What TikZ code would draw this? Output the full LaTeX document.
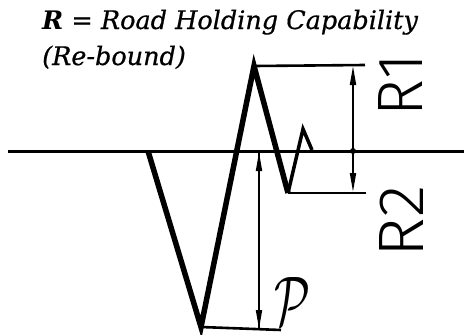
\documentclass[tikz,border=0pt]{standalone}
\usepackage{fontspec}
\newfontfamily\titlefont{DejaVu Serif}[ItalicFeatures={FakeBold=0.6}]
\newfontfamily\handfont{Fira Sans}[UprightFont=* Light]
\usetikzlibrary{arrows.meta}
\begin{document}
\begin{tikzpicture}[x=1pt,y=-1pt,
  groundline/.style={line width=3pt},
  mainstroke/.style={line width=5.5pt,line join=miter,line cap=butt},
  spikestroke/.style={line width=3.5pt,line join=miter},
  extline/.style={line width=2.6pt},
  dimline/.style={line width=1.8pt},
  dimtip/.style={-{Triangle[length=19pt,width=6pt]}},
  labeltext/.style={inner sep=0pt},
  titletext/.style={anchor=base west,inner sep=0pt,font=\titlefont\itshape\fontsize{25.5}{30}\selectfont}]
\useasboundingbox (0,0) rectangle (464,335);
% ground line
\coordinate (gl) at (8,151);
\coordinate (gr) at (464,151);
\draw[groundline] (gl) -- (gr);
% the trace
\coordinate (s) at (148,151);
\coordinate (v1) at (201,327);
\coordinate (pk) at (254,66);
\coordinate (v2) at (288,193);
\coordinate (sp) at (303,129);
\coordinate (e) at (312,150);
\draw[mainstroke] (s) -- (v1) -- (pk) -- (v2);
\draw[spikestroke] (v2) -- (sp) -- (e);
% extension lines
\coordinate (pke) at (365,65);
\coordinate (v2e) at (366,193);
\coordinate (v1e) at (281,330);
\draw[extline] (pk) -- (pke);
\draw[extline] (v2) -- (v2e);
\draw[extline] (v1) -- (v1e);
% dimension lines
\coordinate (d1t) at (353,66);
\coordinate (d1b) at (353,151);
\coordinate (d2b) at (353,192);
\coordinate (p1t) at (259,152);
\coordinate (p1b) at (259,329);
\draw[dimline,dimtip] (d1b) -- (d1t);
\draw[dimline,dimtip] (d1b) -- (d2b);
\fill (d1b) circle (3pt);
\draw[dimline,dimtip] (p1b) -- (p1t);
\draw[dimline,dimtip] (p1t) -- (p1b);
% labels
\node[labeltext,rotate=90] (r1) at (400,85) {\resizebox{62pt}{44pt}{\handfont R1}};
\node[labeltext,rotate=90] (r2) at (401,221) {\resizebox{72pt}{44pt}{\handfont R2}};
\node[labeltext] (plab) at (292,301) {\resizebox{36pt}{48pt}{$\mathcal{P}$}};
\node[titletext] (title) at (42,29) {\textbf{R} = Road Holding Capability};
\node[titletext] (sub) at (42,65) {(Re-bound)};
\end{tikzpicture}
\end{document}
